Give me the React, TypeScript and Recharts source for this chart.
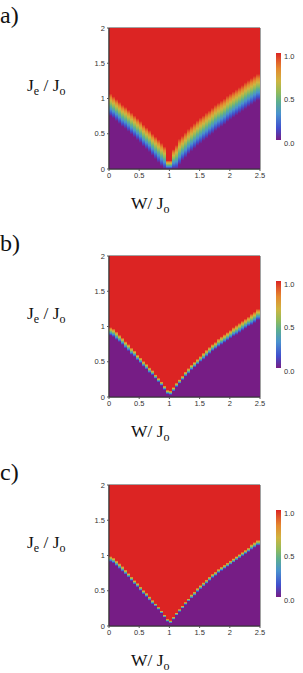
import React from 'react';
import { BarChart, Bar, XAxis, YAxis, ReferenceArea } from 'recharts';

// column centres along W/Jo (0.05 wide)
const wCols = [
  0.025, 0.075, 0.125, 0.175, 0.225, 0.275, 0.325, 0.375, 0.425, 0.475,
  0.525, 0.575, 0.625, 0.675, 0.725, 0.775, 0.825, 0.875, 0.925, 0.975,
  1.025, 1.075, 1.125, 1.175, 1.225, 1.275, 1.325, 1.375, 1.425, 1.475,
  1.525, 1.575, 1.625, 1.675, 1.725, 1.775, 1.825, 1.875, 1.925, 1.975,
  2.025, 2.075, 2.125, 2.175, 2.225, 2.275, 2.325, 2.375, 2.425, 2.475
];

const xTicks = [0, 0.5, 1, 1.5, 2, 2.5];
const yTicks = [0, 0.5, 1, 1.5, 2];
const barTicks = [0, 0.5, 1];

// Je/Jo where the value leaves 0.0 (lower) and reaches 1.0 (upper), per column
const aLower = [
  0.75, 0.72, 0.68, 0.64, 0.60, 0.57, 0.53, 0.49, 0.45, 0.41,
  0.37, 0.32, 0.28, 0.24, 0.19, 0.14, 0.09, 0.04, 0.00, 0.00,
  0.00, 0.00, 0.00, 0.06, 0.12, 0.16, 0.21, 0.25, 0.29, 0.33,
  0.36, 0.40, 0.43, 0.47, 0.50, 0.54, 0.57, 0.60, 0.63, 0.67,
  0.70, 0.73, 0.76, 0.79, 0.82, 0.85, 0.88, 0.91, 0.94, 0.97
];
const aUpper = [
  1.07, 1.03, 0.99, 0.95, 0.91, 0.88, 0.84, 0.80, 0.76, 0.72,
  0.68, 0.63, 0.59, 0.55, 0.50, 0.46, 0.42, 0.37, 0.32, 0.12,
  0.12, 0.28, 0.34, 0.43, 0.47, 0.52, 0.57, 0.61, 0.65, 0.69,
  0.73, 0.76, 0.80, 0.83, 0.87, 0.91, 0.94, 0.97, 1.00, 1.04,
  1.07, 1.10, 1.13, 1.16, 1.19, 1.23, 1.26, 1.29, 1.32, 1.35
];

const bLower = [
  0.87, 0.85, 0.81, 0.78, 0.74, 0.69, 0.65, 0.60, 0.57, 0.52,
  0.48, 0.43, 0.39, 0.34, 0.31, 0.26, 0.21, 0.16, 0.10, 0.04,
  0.03, 0.08, 0.14, 0.19, 0.24, 0.29, 0.33, 0.38, 0.42, 0.46,
  0.50, 0.53, 0.57, 0.61, 0.65, 0.68, 0.71, 0.74, 0.77, 0.80,
  0.83, 0.86, 0.88, 0.91, 0.94, 0.97, 1.00, 1.02, 1.05, 1.09
];
const bUpper = [
  0.99, 0.97, 0.93, 0.88, 0.84, 0.79, 0.75, 0.70, 0.66, 0.60,
  0.56, 0.51, 0.47, 0.42, 0.38, 0.32, 0.27, 0.22, 0.16, 0.10,
  0.09, 0.14, 0.20, 0.25, 0.30, 0.36, 0.41, 0.46, 0.50, 0.54,
  0.58, 0.63, 0.67, 0.71, 0.75, 0.78, 0.83, 0.86, 0.89, 0.92,
  0.95, 0.99, 1.02, 1.05, 1.08, 1.11, 1.14, 1.18, 1.21, 1.25
];

const cLower = [
  0.91, 0.89, 0.85, 0.81, 0.77, 0.73, 0.69, 0.64, 0.59, 0.55,
  0.50, 0.45, 0.41, 0.36, 0.31, 0.28, 0.23, 0.18, 0.12, 0.06,
  0.04, 0.09, 0.15, 0.20, 0.25, 0.30, 0.35, 0.39, 0.43, 0.48,
  0.52, 0.56, 0.60, 0.64, 0.68, 0.71, 0.75, 0.78, 0.81, 0.84,
  0.87, 0.90, 0.93, 0.96, 0.99, 1.02, 1.05, 1.08, 1.11, 1.14
];
const cUpper = [
  0.99, 0.97, 0.93, 0.89, 0.85, 0.80, 0.75, 0.70, 0.65, 0.61,
  0.56, 0.51, 0.47, 0.42, 0.37, 0.32, 0.27, 0.22, 0.16, 0.10,
  0.08, 0.13, 0.19, 0.24, 0.29, 0.34, 0.39, 0.45, 0.49, 0.54,
  0.58, 0.62, 0.66, 0.70, 0.74, 0.77, 0.81, 0.84, 0.87, 0.90,
  0.93, 0.96, 0.99, 1.02, 1.05, 1.08, 1.11, 1.16, 1.19, 1.22
];

// rainbow colour scale (value, colour)
const rainbow: [number, string][] = [
  [0, '#761D85'],
  [0.14, '#4050CE'],
  [0.3, '#4992CF'],
  [0.44, '#5DAF8E'],
  [0.55, '#92BB5A'],
  [0.68, '#CFB440'],
  [0.82, '#E4892F'],
  [0.92, '#E0552A'],
  [1, '#DC2423']
];

const tickStyle = { fontSize: 7.5, fill: '#333', fontFamily: 'Liberation Sans, Arial, sans-serif' };

function columnStops(lo: number, hi: number) {
  return [...rainbow].reverse().map(([v, col], k) => {
    const je = lo + v * (hi - lo);
    const off = Math.min(100, Math.max(0, ((2 - je) / 2) * 100));
    return <stop key={k} offset={`${off}%`} stopColor={col} />;
  });
}

const ColumnRect = (props: any) => {
  const { x, y, width, height, gid } = props;
  const idx = typeof props.index === 'number' ? props.index : wCols.indexOf(props.payload?.w);
  const x0 = Math.floor(x);
  const x1 = Math.ceil(x + width);
  return (
    <rect
      x={x0}
      y={y}
      width={x1 - x0}
      height={height}
      shapeRendering="crispEdges"
      fill={`url(#${gid}-col-${idx})`}
    />
  );
};

type PanelProps = { id: string; letter: string; top: number; lower: number[]; upper: number[] };

function Panel({ id, letter, top, lower, upper }: PanelProps) {
  const data = wCols.map((w, i) => ({ w, je: 2, lo: lower[i], hi: upper[i] }));
  const bar = [{ k: 'bar', v: 1 }];
  return (
    <div style={{ position: 'absolute', left: 0, top, width: 303, height: 228 }}>
      <BarChart
        width={303}
        height={228}
        data={data}
        margin={{ top: 28, right: 43, bottom: 39, left: 89 }}
        barCategoryGap={0}
        barGap={0}
      >
        <defs>
          {data.map((d, i) => (
            <linearGradient key={i} id={`${id}-col-${i}`} x1="0" y1="0" x2="0" y2="1">
              {columnStops(d.lo, d.hi)}
            </linearGradient>
          ))}
        </defs>
        <XAxis
          type="number"
          dataKey="w"
          domain={[0, 2.5]}
          ticks={xTicks}
          height={20}
          tickSize={2}
          tickMargin={2}
          tick={tickStyle}
          axisLine={{ stroke: '#333' }}
          tickLine={{ stroke: '#555' }}
        />
        <YAxis
          type="number"
          domain={[0, 2]}
          ticks={yTicks}
          width={20}
          tickSize={2}
          tickMargin={2}
          tick={tickStyle}
          axisLine={{ stroke: '#333' }}
          tickLine={{ stroke: '#555' }}
        />
        <Bar
          dataKey="je"
          isAnimationActive={false}
          shape={(p: any) => <ColumnRect {...p} gid={id} />}
        />
        <ReferenceArea x1={0} x2={2.5} y1={0} y2={2} fill="none" stroke="#444" strokeWidth={1} />
      </BarChart>

      <div style={{ position: 'absolute', left: 270, top: 40 }}>
        <BarChart
          width={33}
          height={110}
          data={bar}
          margin={{ top: 13, right: 0, bottom: 10, left: 6 }}
          barCategoryGap={0}
        >
          <defs>
            <linearGradient id={`${id}-cbar`} x1="0" y1="0" x2="0" y2="1">
              {[...rainbow].reverse().map(([v, col], k) => (
                <stop key={k} offset={`${(1 - v) * 100}%`} stopColor={col} />
              ))}
            </linearGradient>
          </defs>
          <XAxis dataKey="k" hide />
          <YAxis
            orientation="right"
            type="number"
            domain={[0, 1]}
            ticks={barTicks}
            width={22}
            axisLine={false}
            tickLine={false}
            tickSize={0}
            tickMargin={3}
            tick={{ ...tickStyle, dy: 3 }}
            tickFormatter={(v: number) => v.toFixed(1)}
          />
          <Bar dataKey="v" fill={`url(#${id}-cbar)`} isAnimationActive={false} />
        </BarChart>
      </div>

      <svg
        width={303}
        height={228}
        style={{ position: 'absolute', left: 0, top: 0, pointerEvents: 'none' }}
        fontFamily="Liberation Serif, Times New Roman, serif"
      >
        <text x={0} y={23} fontSize={24} fill="#111">{letter}</text>
        <text x={27} y={91} fontSize={17.5} fill="#111">
          J<tspan dy={4} fontSize={12}>e</tspan>
          <tspan dy={-4}>{' / J'}</tspan>
          <tspan dy={4} fontSize={12}>o</tspan>
        </text>
        <text x={131} y={209} fontSize={17.5} fill="#111">
          {'W/ J'}
          <tspan dy={3.5} fontSize={12}>o</tspan>
        </text>
      </svg>
    </div>
  );
}

export default function App() {
  return (
    <div style={{ position: 'absolute', left: 0, top: 0, width: 303, height: 673, background: '#fff' }}>
      <Panel id="pa" letter="a)" top={0} lower={aLower} upper={aUpper} />
      <Panel id="pb" letter="b)" top={228} lower={bLower} upper={bUpper} />
      <Panel id="pc" letter="c)" top={457} lower={cLower} upper={cUpper} />
    </div>
  );
}
